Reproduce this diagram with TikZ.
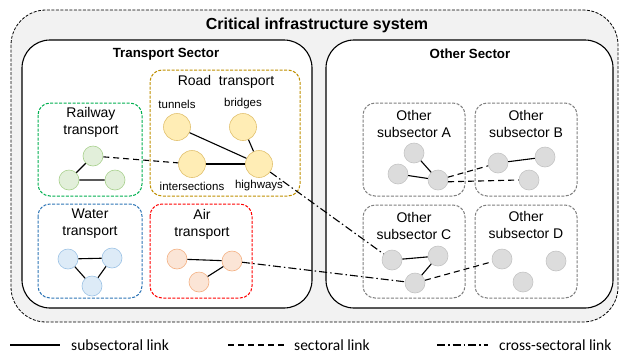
\documentclass[tikz,border=0pt]{standalone}
\usepackage{fontspec}
\setmainfont{Liberation Sans}
\newfontfamily\legendfont{Carlito}

\definecolor{railfill}{HTML}{E2EFDA}
\definecolor{raildraw}{HTML}{A9D18E}
\definecolor{railbox}{HTML}{00B050}
\definecolor{roadfill}{HTML}{FFEDB5}
\definecolor{roaddraw}{HTML}{E2C270}
\definecolor{roadbox}{HTML}{BF9000}
\definecolor{waterfill}{HTML}{DDEBF7}
\definecolor{waterdraw}{HTML}{9DC3E6}
\definecolor{waterbox}{HTML}{2E75B6}
\definecolor{airfill}{HTML}{FBE5D6}
\definecolor{airdraw}{HTML}{F4B183}
\definecolor{airbox}{HTML}{FF0000}
\definecolor{othfill}{HTML}{DCDCDC}
\definecolor{othdraw}{HTML}{C4C4C4}
\definecolor{othbox}{HTML}{7F7F7F}
\definecolor{outerfill}{HTML}{F2F2F2}

\tikzset{
  dot/.style={circle, inner sep=0pt, minimum size=20pt, line width=0.6pt, draw=#1draw, fill=#1fill},
  bigdot/.style={dot=#1, minimum size=27pt},
  subbox/.style={draw=#1, line width=1pt, rounded corners=12pt, dash pattern=on 3pt off 1.5pt},
  secbox/.style={draw=black, fill=white, line width=1.1pt, rounded corners=28pt},
  boxtitle/.style={align=center, font=\fontsize{14}{17}\selectfont},
  small/.style={font=\fontsize{11.5}{13}\selectfont},
  link/.style={line width=1.1pt},
  seclink/.style={link, dash pattern=on 6pt off 4pt},
  crosslink/.style={link, dash pattern=on 8pt off 3pt on 1.5pt off 3pt}
}

\begin{document}
\begin{tikzpicture}[x=1pt, y=-1pt]
  \useasboundingbox (0,0) rectangle (620,354);
  \draw[fill=outerfill, line width=0.8pt, rounded corners=35pt, dash pattern=on 3pt off 1.5pt] (11,10) rectangle (618,322);
  \node[font=\fontsize{16}{19}\selectfont\bfseries] (sys) at (317,25) {Critical infrastructure system};

  \draw[secbox] (22,40) rectangle (312,308);
  \draw[secbox] (326,40) rectangle (613,308);
  \node[font=\fontsize{13.3}{16}\selectfont\bfseries] (transT) at (166,54) {Transport Sector};
  \node[font=\fontsize{13.3}{16}\selectfont\bfseries] (otherT) at (470,54) {Other Sector};

  % subsector boxes
  \draw[subbox=railbox] (38,103) rectangle (142,196);
  \draw[subbox=roadbox] (150,70) rectangle (300,196);
  \draw[subbox=waterbox] (38,204) rectangle (142,298);
  \draw[subbox=airbox] (150,204) rectangle (252,298);
  \draw[subbox=othbox] (363,103) rectangle (465,196);
  \draw[subbox=othbox] (475,103) rectangle (577,196);
  \draw[subbox=othbox] (363,205) rectangle (465,298);
  \draw[subbox=othbox] (475,205) rectangle (577,298);

  \node[boxtitle] (railT) at (91,122.5) {Railway\\transport};
  \node[boxtitle] (roadT) at (226,82) {Road\ \ transport};
  \node[boxtitle] (waterT) at (90,224) {Water\\transport};
  \node[boxtitle] (airT) at (202,224) {Air\\transport};
  \node[boxtitle] (othAT) at (414,123.5) {Other\\subsector A};
  \node[boxtitle] (othBT) at (526,123.5) {Other\\subsector B};
  \node[boxtitle] (othCT) at (414,226) {Other\\subsector C};
  \node[boxtitle] (othDT) at (526,224.5) {Other\\subsector D};

  % railway
  \node[dot=rail] (rail1) at (93,156) {};
  \node[dot=rail] (rail2) at (69,180) {};
  \node[dot=rail] (rail3) at (115,180) {};
  % road
  \node[bigdot=road] (tunnels) at (177,127) {};
  \node[bigdot=road] (bridges) at (243,127) {};
  \node[bigdot=road] (inters) at (192,164) {};
  \node[bigdot=road] (highways) at (259,164) {};
  \node[small] (tunnelsL) at (177,104) {tunnels};
  \node[small] (bridgesL) at (243,104) {bridges};
  \node[small] (intersL) at (192,186) {intersections};
  \node[small] (highwaysL) at (259,186) {highways};
  % water
  \node[dot=water] (water1) at (68,259) {};
  \node[dot=water] (water2) at (112,258) {};
  \node[dot=water] (water3) at (92,286) {};
  % air
  \node[dot=air] (air1) at (177,259) {};
  \node[dot=air] (air2) at (232,261) {};
  \node[dot=air] (air3) at (199,282) {};
  % other subsectors
  \node[dot=oth] (othA1) at (414,153) {};
  \node[dot=oth] (othA2) at (398,174) {};
  \node[dot=oth] (othA3) at (438,180) {};
  \node[dot=oth] (othB1) at (498,163) {};
  \node[dot=oth] (othB2) at (545,157) {};
  \node[dot=oth] (othB3) at (529,180) {};
  \node[dot=oth] (othC1) at (392,260) {};
  \node[dot=oth] (othC2) at (438,256) {};
  \node[dot=oth] (othC3) at (415,283) {};
  \node[dot=oth] (othD1) at (502,259) {};
  \node[dot=oth] (othD2) at (556,261) {};
  \node[dot=oth] (othD3) at (523,282) {};

  \draw[link] (rail1) -- (rail2) -- (rail3);
  \draw[link] (tunnels) -- (highways) -- (bridges);
  \draw[link] (inters) -- (highways);
  \draw[link] (water1) -- (water2) -- (water3) -- (water1);
  \draw[link] (air1) -- (air2) -- (air3);
  \draw[link] (othA1) -- (othA3) -- (othA2);
  \draw[link] (othB1) -- (othB2);
  \draw[link] (othC1) -- (othC2) -- (othC3);

  \draw[seclink] (rail1) -- (inters);
  \draw[seclink] (othA3) -- (othB1);
  \draw[seclink] (othA3.-10) -- (othB3.west);
  \draw[seclink] (othC3) -- (othD1);
  \draw[crosslink] (highways) -- (othC1);
  \draw[crosslink] (air2) -- (othC3);

  % legend
  \coordinate (leg1a) at (10,345);
  \coordinate (leg1b) at (60,345);
  \coordinate (leg2a) at (228,345);
  \coordinate (leg2b) at (284,345);
  \coordinate (leg3a) at (437,345);
  \coordinate (leg3b) at (488,345);
  \draw[link] (leg1a) -- (leg1b);
  \draw[seclink] (leg2a) -- (leg2b);
  \draw[crosslink] (leg3a) -- (leg3b);
  \node[anchor=west, inner sep=0pt, font=\legendfont\fontsize{15.5}{18}\selectfont] (leg1) at (71,345) {subsectoral link};
  \node[anchor=west, inner sep=0pt, font=\legendfont\fontsize{15.5}{18}\selectfont] (leg2) at (294,345) {sectoral link};
  \node[anchor=west, inner sep=0pt, font=\legendfont\fontsize{15.5}{18}\selectfont] (leg3) at (499,345) {cross-sectoral link};
\end{tikzpicture}
\end{document}
